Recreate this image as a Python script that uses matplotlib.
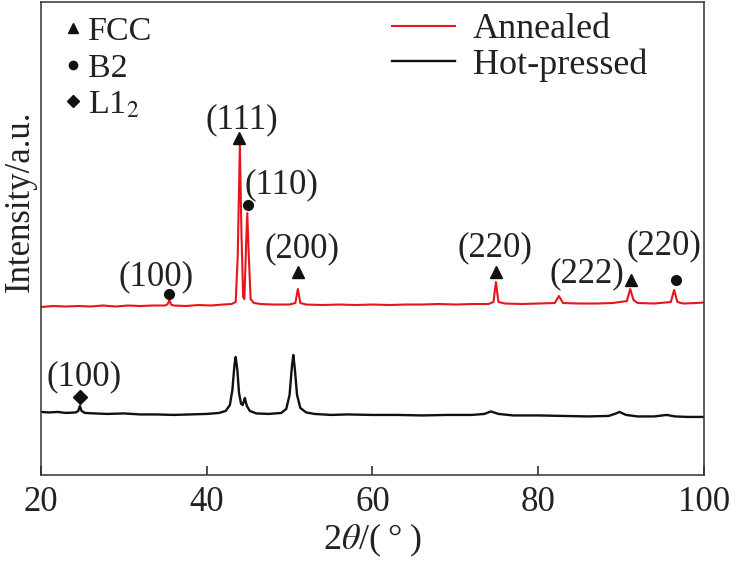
import numpy as np
import matplotlib.pyplot as plt
from matplotlib.lines import Line2D

plt.rcParams['font.family'] = ['Liberation Serif', 'DejaVu Serif']
plt.rcParams['mathtext.fontset'] = 'stix'

# Annealed curve (2theta, intensity a.u.)
ann_x = [20.0, 21.5, 23.0, 24.5, 26.0, 27.5, 29.0, 30.5, 32.0, 33.5, 35.0, 35.3, 35.5, 35.7,
         36.0, 37.5, 39.0, 40.5, 42.0, 43.0, 43.5, 43.75, 44.0, 44.2, 44.4, 44.55, 44.75,
         44.9, 45.05, 45.3, 45.7, 46.5, 48.0, 50.0, 50.7, 51.0, 51.3, 52.0, 54.0, 56.0,
         58.0, 60.0, 62.0, 64.0, 66.0, 68.0, 70.0, 72.0, 74.0, 74.6, 74.9, 75.2, 76.0,
         78.0, 80.0, 82.0, 82.5, 83.0, 85.0, 87.0, 89.0, 90.7, 91.1, 91.5, 92.0, 94.0,
         96.0, 96.4, 96.8, 97.5, 99.0, 100.0]
ann_y = [168, 169, 168.5, 169, 168.5, 169.5, 168.5, 169.5, 169, 169.5, 169.5, 171, 175, 170.5,
         169.5, 169, 170, 169.5, 170.5, 171, 173, 220, 330, 240, 178, 176, 230,
         262, 225, 176, 172, 171, 170.5, 170.5, 172, 186, 172, 170.5, 170, 170.5,
         170, 170.5, 170, 170.5, 170.5, 171, 170.5, 171, 171, 173, 193, 173, 171.5,
         171, 171.5, 172, 179, 172, 171.5, 171.5, 172, 174, 186, 175, 172, 171.5,
         173, 185, 173, 171.5, 172, 172.5]

# Hot-pressed curve
hp_x = [20.0, 21.0, 22.0, 23.0, 24.2, 24.5, 24.7, 24.9, 25.3, 26.5, 28.0, 30.0, 32.0, 34.0,
        36.0, 38.0, 40.0, 41.5, 42.3, 42.8, 43.1, 43.35, 43.5, 43.7, 43.9, 44.15, 44.35,
        44.6, 44.85, 45.2, 46.0, 47.5, 49.0, 49.6, 50.0, 50.3, 50.45, 50.65, 50.9, 51.3,
        52.0, 53.0, 55.0, 57.0, 60.0, 63.0, 66.0, 69.0, 72.0, 73.5, 74.3, 75.2, 77.0,
        80.0, 83.0, 86.0, 88.5, 89.4, 89.8, 90.6, 92.0, 94.0, 95.5, 96.5, 98.0, 100.0]
hp_y = [63, 62.5, 63, 62, 62.5, 64, 69, 64, 62, 61.5, 61, 61.5, 60.5, 60.5,
        60, 60.5, 61, 62, 64, 70, 85, 110, 118, 105, 82, 71, 70,
        77, 69, 64, 61.5, 61, 62, 66, 80, 110, 120, 105, 80, 67,
        62.5, 61, 60, 60.5, 60, 60, 59.5, 60, 60, 61, 63.5, 61, 59.5,
        59.5, 59, 58.5, 59, 61.5, 63, 60, 58.5, 58.5, 60, 58.5, 58, 58]

# peak markers: position, marker height, phase
mk_x = [35.5, 43.9, 44.95, 51.0, 74.95, 91.2, 96.6, 24.7]
mk_y = [181, 337, 270, 203, 203, 195, 195, 78]
mk_phase = ['B2', 'FCC', 'B2', 'FCC', 'FCC', 'FCC', 'B2', 'L12']

# peak labels: anchor x, anchor y, text
lb_x = [35.5, 43.9, 44.95, 51.0, 74.95, 82.5, 96.6, 24.7]
lb_y = [181, 337, 270, 203, 203, 179, 195, 78]
lb_text = ['(100)', '(111)', '(110)', '(200)', '(220)', '(222)', '(220)', '(100)']
lb_off = [(-13, 17), (3, 18), (34, 20), (4, 23), (-1, 24), (28, 22), (-12, 34), (4, 20)]

markers = {'FCC': '^', 'B2': 'o', 'L12': 'D'}
msize = {'FCC': 8, 'B2': 7, 'L12': 7}

fig = plt.figure(figsize=(7.31, 5.62), dpi=100)
ax = fig.add_axes([0.056, 0.155, 0.907, 0.841])

l1, = ax.plot(ann_x, ann_y, color='#e8141b', lw=1.5, label='Annealed')
l2, = ax.plot(hp_x, hp_y, color='#111111', lw=1.7, label='Hot-pressed')

for x, y, ph in zip(mk_x, mk_y, mk_phase):
    ax.plot(x, y, marker=markers[ph], ms=msize[ph], color='#111111', ls='none')

for x, y, t, off in zip(lb_x, lb_y, lb_text, lb_off):
    ax.annotate(t, (x, y), xytext=off, textcoords='offset pixels',
                ha='center', va='center', fontsize=25, color='#222222')

ax.set_xlim(20, 100)
ax.set_ylim(0, 473)
ax.set_xticks([20, 40, 60, 80, 100])
ax.set_yticks([])
ax.tick_params(axis='x', direction='in', length=6.5, width=1.1, pad=8,
               labelsize=25, colors='#222222')
for s in ax.spines.values():
    s.set_linewidth(1.1)
    s.set_color('#333333')

ax.set_xlabel('2$\\theta$/(\u2009°\u2009)', fontsize=26, color='#222222', labelpad=2)
ax.set_ylabel('Intensity/a.u.', fontsize=25, color='#222222')
ax.yaxis.set_label_coords(-0.007, 0.579)

# phase legend (markers only)
handles = [Line2D([], [], marker=markers[k], ms=msize[k] - 1, color='#111111', ls='none')
           for k in ['FCC', 'B2', 'L12']]
leg1 = ax.legend(handles, ['FCC', 'B2', 'L1$_2$'], loc='upper left',
                 bbox_to_anchor=(0.033, 0.970), frameon=False, fontsize=24.5,
                 handlelength=0.6, handletextpad=0.15, labelspacing=0.165,
                 borderpad=0, borderaxespad=0)
for t in leg1.get_texts():
    t.set_color('#222222')
ax.add_artist(leg1)

leg2 = ax.legend([l1, l2], ['Annealed', 'Hot-pressed'], loc='upper left',
                 bbox_to_anchor=(0.529, 0.977), frameon=False, fontsize=26,
                 handlelength=1.75, handletextpad=0.5, labelspacing=0.05,
                 borderpad=0, borderaxespad=0)
for t in leg2.get_texts():
    t.set_color('#222222')

fig.savefig('out.png', dpi=100)
